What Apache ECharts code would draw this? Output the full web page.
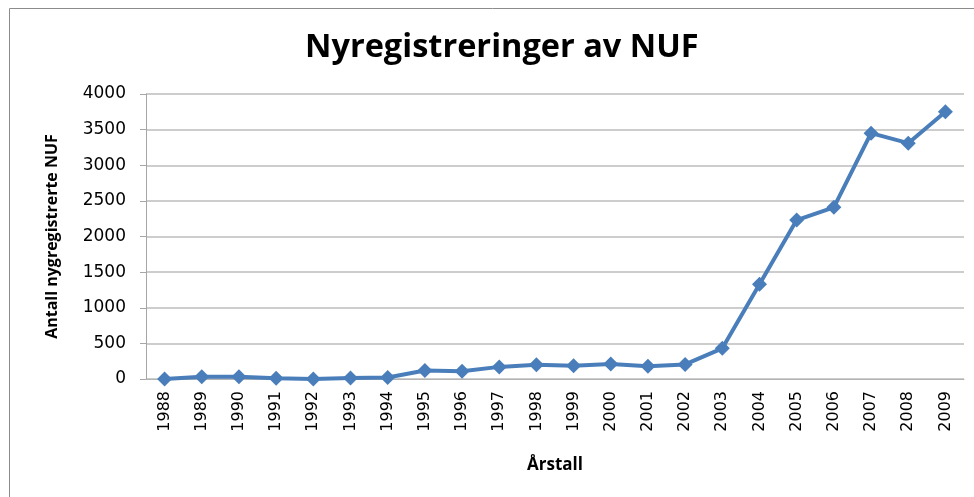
<!DOCTYPE html>
<html>
<head>
<meta charset="utf-8">
<script src="https://cdn.jsdelivr.net/npm/echarts@6/dist/echarts.min.js"></script>
<style>
  html, body { margin: 0; padding: 0; background: #fff; }
  #chart { width: 974px; height: 497px; }
</style>
</head>
<body>
<div id="chart"></div>
<script>
// Årstall (kategorier)
const years = ['1988', '1989', '1990', '1991', '1992', '1993', '1994', '1995', '1996', '1997', '1998',
  '1999', '2000', '2001', '2002', '2003', '2004', '2005', '2006', '2007', '2008', '2009']
// Antall nyregistrerte NUF
const registrations = [0, 30, 30, 10, 0, 15, 20, 120, 110, 170, 200,
  185, 210, 180, 205, 430, 1330, 2230, 2410, 3450, 3310, 3750]
const yTicks = [0, 500, 1000, 1500, 2000, 2500, 3000, 3500, 4000]

const chart = echarts.init(document.getElementById('chart'))

const option = {
  animation: false,
  title: {
    text: 'Nyregistreringer av NUF',
    left: 300,
    top: 26,
    textStyle: { fontFamily: 'Open Sans', fontWeight: 'bold', fontSize: 32.5, color: '#000' }
  },
  graphic: [
    {
      type: 'rect',
      shape: { x: 9.5, y: 8.5, width: 1100, height: 700 },
      style: { fill: 'none', stroke: '#8c8c8c', lineWidth: 1 },
      silent: true
    }
  ],
  grid: { left: 146, right: 10, top: 94, bottom: 118 },
  xAxis: {
    type: 'category',
    data: years,
    boundaryGap: true,
    name: 'Årstall',
    nameLocation: 'middle',
    nameGap: 78,
    nameTextStyle: { fontFamily: 'Open Sans', fontWeight: 'bold', fontSize: 17, color: '#000' },
    axisLine: { lineStyle: { color: '#b3b3b3', width: 1 } },
    axisTick: { show: false },
    axisLabel: { rotate: 90, margin: 12, fontFamily: 'DejaVu Sans', fontSize: 16, color: '#000' }
  },
  yAxis: {
    type: 'value',
    min: yTicks[0],
    max: yTicks[yTicks.length - 1],
    interval: 500,
    name: 'Antall nygregistrerte NUF',
    nameLocation: 'middle',
    nameGap: 86,
    nameTextStyle: { fontFamily: 'Open Sans', fontWeight: 'bold', fontSize: 16, color: '#000' },
    axisLine: { show: true, lineStyle: { color: '#a6a6a6', width: 1 } },
    axisTick: { show: true, inside: false, length: 6, lineStyle: { color: '#a6a6a6' } },
    axisLabel: {
      margin: 20,
      fontFamily: 'DejaVu Sans',
      fontSize: 17,
      color: '#000',
      formatter: (v) => String(v)
    },
    splitLine: { lineStyle: { color: '#bcbcbc', width: 1.5 } }
  },
  series: [
    {
      type: 'line',
      data: registrations,
      symbol: 'diamond',
      symbolSize: 15,
      lineStyle: { color: '#4a7ebb', width: 4 },
      itemStyle: { color: '#4a7ebb' }
    }
  ]
}

chart.setOption(option)
</script>
</body>
</html>
